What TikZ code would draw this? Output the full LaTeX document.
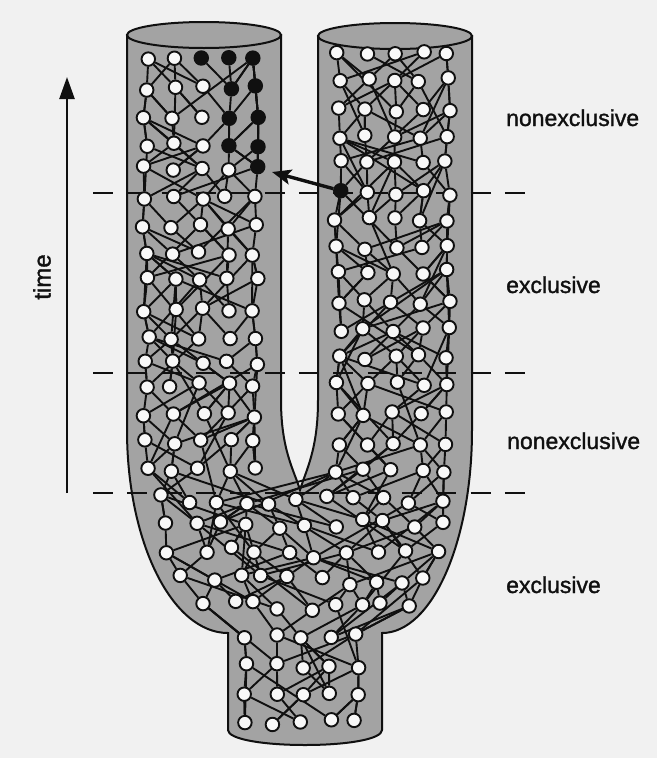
\documentclass[tikz,border=0pt]{standalone}
\usepackage{fontspec}
\setmainfont{Liberation Sans}
\newfontfamily\lblfont[FakeBold=1.3]{Liberation Sans}
\usetikzlibrary{arrows.meta}
\definecolor{bgc}{HTML}{F1F1F1}
\definecolor{tubec}{HTML}{A3A3A3}
\definecolor{dotc}{HTML}{F8F8F8}
\definecolor{inkc}{HTML}{101010}
\pgfdeclarelayer{back}
\pgfdeclarelayer{edges}
\pgfsetlayers{back,edges,main}
\tikzset{
  wdot/.style={circle,draw=inkc,fill=dotc,line width=1.9pt,minimum size=13.5pt,inner sep=0pt},
  bdot/.style={wdot,fill=inkc},
  edge/.style={draw=inkc,line width=1.9pt},
  dashline/.style={draw=inkc,line width=2.2pt,dash pattern=on 20pt off 14.33pt},
  outline/.style={draw=inkc,line width=2pt,fill=tubec},
  lbl/.style={font=\lblfont\fontsize{23}{27}\selectfont,text=inkc,inner sep=0pt,anchor=base west}
}
\expandafter\def\csname blk0-2\endcsname{}
\expandafter\def\csname blk0-3\endcsname{}
\expandafter\def\csname blk0-4\endcsname{}
\expandafter\def\csname blk1-3\endcsname{}
\expandafter\def\csname blk1-4\endcsname{}
\expandafter\def\csname blk2-3\endcsname{}
\expandafter\def\csname blk2-4\endcsname{}
\expandafter\def\csname blk3-3\endcsname{}
\expandafter\def\csname blk3-4\endcsname{}
\expandafter\def\csname blk4-4\endcsname{}
\expandafter\def\csname blk5-5\endcsname{}
\begin{document}
\begin{tikzpicture}[x=1pt,y=-1pt]
\pgfmathsetseed{11}
\useasboundingbox (0,0) rectangle (657,758);
\begin{pgfonlayer}{back}
\fill[bgc] (0,0) rectangle (657,758);
\path[outline] (127,35) -- (127,430) .. controls (127,542) and (172,633) .. (228,633)
  -- (228,730) .. controls (228,739) and (262,745) .. (305,745)
  .. controls (348,745) and (382,739) .. (382,730) -- (382,633)
  .. controls (432,633) and (472,542) .. (472,430) -- (472,36) -- (318,36) -- (318,400)
  .. controls (318,450) and (306,470) .. (300,490) .. controls (294,470) and (281,450) .. (281,400)
  -- (281,35) -- cycle;
\path[outline] (204,35) ellipse [x radius=77pt, y radius=13pt];
\path[outline] (395,36) ellipse [x radius=77pt, y radius=13pt];
\end{pgfonlayer}
% tube rows
\foreach \r/\yl/\yr in {0/59/52,1/88/80,2/117/110,3/145/137,4/168/163,5/198/193,6/227/220,7/253/248,8/278/272,9/310/302,10/337/330,11/363/357,12/385/383,13/415/413,14/442/443,15/470/471}{
  \foreach \i in {0,...,9}{
    \pgfmathsetmacro\cx{{146,173,201,228,255,338,366,394,421,447}[\i]}
    \pgfmathsetmacro\xx{\cx+3.5*rand}
    \pgfmathsetmacro\yy{ifthenelse(\i<5,\yl,\yr)+2.5*rand}
    \ifcsname blk\r-\i\endcsname\def\sty{bdot}\else\def\sty{wdot}\fi
    \node[\sty] (n-\r-\i) at (\xx,\yy) {};
  }
  \expandafter\xdef\csname rc\r\endcsname{10}
}
% body rows
\foreach \r/\yb/\n/\xa/\xb in {16/499/11/160/442,17/525/11/165/442,18/552/10/172/435,19/580/10/182/425,20/607/9/205/410,21/636/5/247/357,22/666/5/247/357,23/694/5/247/357,24/722/5/247/357}{
  \expandafter\xdef\csname rc\r\endcsname{\n}
  \pgfmathtruncatemacro\nl{\n-1}
  \foreach \i in {0,...,\nl}{
    \pgfmathsetmacro\xx{\xa+(\xb-\xa)*\i/\nl+ifthenelse(\r<21,6,3)*rand}
    \pgfmathsetmacro\yv{\yb+ifthenelse(\r<21,6,2.5)*rand}
    \node[wdot] (n-\r-\i) at (\xx,\yv) {};
  }
}
\begin{pgfonlayer}{edges}
\foreach \r in {1,...,24}{
  \pgfmathtruncatemacro\rp{\r-1}
  \pgfmathtruncatemacro\rpp{max(\r-2,0)}
  \edef\n{\csname rc\r\endcsname}
  \edef\m{\csname rc\rp\endcsname}
  \edef\mm{\csname rc\rpp\endcsname}
  \pgfmathtruncatemacro\nl{\n-1}
  \foreach \i in {0,...,\nl}{
    \ifnum\r<16
      \pgfmathtruncatemacro\lo{ifthenelse(\i<5,0,5)}
      \pgfmathtruncatemacro\hi{\lo+4}
      \pgfmathtruncatemacro\lob{\lo}
      \pgfmathtruncatemacro\hib{\hi}
      \pgfmathtruncatemacro\base{\i}
      \pgfmathtruncatemacro\baseb{\i}
    \else
      \def\lo{0}\def\lob{0}
      \pgfmathtruncatemacro\hi{\m-1}
      \pgfmathtruncatemacro\hib{\mm-1}
      \pgfmathtruncatemacro\base{round(\i*(\m-1)/(\n-1))}
      \pgfmathtruncatemacro\baseb{round(\i*(\mm-1)/(\n-1))}
    \fi
    \pgfmathtruncatemacro\ja{min(max(\base+random(0,2)-1,\lo),\hi)}
    \pgfmathtruncatemacro\jb{min(max(\base+random(0,6)-3,\lo),\hi)}
    \draw[edge] (n-\r-\i) -- (n-\rp-\ja);
    \draw[edge] (n-\r-\i) -- (n-\rp-\jb);
    \ifnum\r>1
      \pgfmathtruncatemacro\coin{rnd<0.45}
      \ifnum\coin=1
        \pgfmathtruncatemacro\jc{min(max(\baseb+random(0,6)-3,\lob),\hib)}
        \draw[edge] (n-\r-\i) -- (n-\rpp-\jc);
      \fi
    \fi
  }
}
\draw[edge] (n-1-3) -- (n-0-2);
\draw[edge] (n-1-3) -- (n-0-3);
\draw[edge] (n-1-4) -- (n-0-4);
\draw[edge] (n-2-3) -- (n-1-3);
\draw[edge] (n-2-4) -- (n-1-4);
\draw[edge] (n-3-3) -- (n-2-3);
\draw[edge] (n-3-4) -- (n-2-4);
\draw[edge] (n-4-4) -- (n-3-4);
\draw[edge] (n-4-4) -- (n-3-3);
% dashed time boundaries
\coordinate (d1a) at (93,193); \coordinate (d1b) at (525,193);
\coordinate (d2a) at (93,373); \coordinate (d2b) at (525,373);
\coordinate (d3a) at (93,493); \coordinate (d3b) at (525,493);
\draw[dashline] (d1a) -- (d1b);
\draw[dashline] (d2a) -- (d2b);
\draw[dashline] (d3a) -- (d3b);
\end{pgfonlayer}
% migration arrow
\coordinate (ahead) at (272,172);
\draw[draw=inkc,line width=3.4pt,-{Stealth[length=19pt,width=15pt,inset=4pt]}] (n-5-5) -- (ahead);
% time arrow
\coordinate (tbot) at (67,493);
\coordinate (ttop) at (67,77);
\draw[draw=inkc,line width=2.4pt,-{Triangle[length=22pt,width=15pt]}] (tbot) -- (ttop);
\node[font=\lblfont\fontsize{24}{28}\selectfont,text=inkc,rotate=90] (tlab) at (42,277) {time};
% labels
\node[lbl] (l1) at (506,126) {nonexclusive};
\node[lbl] (l2) at (506,293) {exclusive};
\node[lbl] (l3) at (507,449) {nonexclusive};
\node[lbl] (l4) at (506,593) {exclusive};
\end{tikzpicture}
\end{document}
